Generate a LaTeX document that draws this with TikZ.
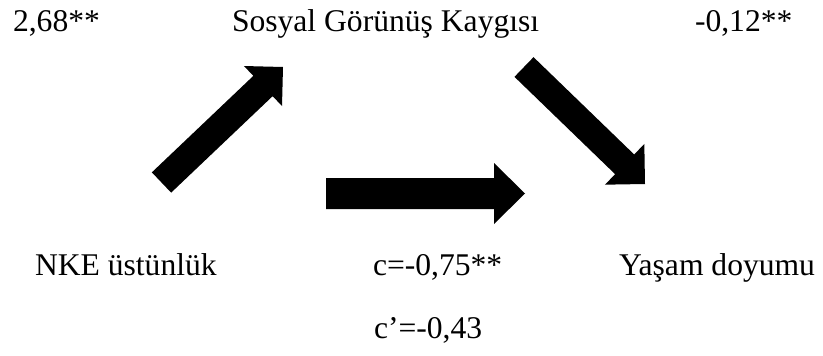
\documentclass[tikz,border=0pt]{standalone}
\usepackage{fontspec}
\setmainfont{Liberation Serif}
\usetikzlibrary{calc}
\newcommand\fatarrow[5]{%
  \coordinate (fa-h) at ($(#2)!#4!(#1)$);
  \fill[black] ($(#1)!#3!90:(#2)$) -- ($(fa-h)!#3!90:(#2)$) -- ($(fa-h)!#5!90:(#2)$)
    -- (#2) -- ($(fa-h)!#5!-90:(#2)$) -- ($(fa-h)!#3!-90:(#2)$) -- ($(#1)!#3!-90:(#2)$) -- cycle;
}
\begin{document}
\begin{tikzpicture}[x=1pt,y=-1pt,
  lbl/.style={anchor=base west,inner sep=0pt,outer sep=0pt,font=\fontsize{31.6}{38}\selectfont}]
\useasboundingbox (0,0) rectangle (823,356);
% labels
\node[lbl] (a1) at (13,31) {2,68**};
\node[lbl] (m) at (232,31) {Sosyal Görünüş Kaygısı};
\node[lbl] (b1) at (695,31) {-0,12**};
\node[lbl] (x) at (35,275) {NKE üstünlük};
\node[lbl] (c) at (373,275) {c=-0,75**};
\node[lbl] (y) at (619,275) {Yaşam doyumu};
\node[lbl] (cp) at (374,338) {c’=-0,43};
% arrows
\coordinate (t1) at (161.5,182.5); \coordinate (p1) at (283,67);
\coordinate (t2) at (524,67);     \coordinate (p2) at (645,184);
\coordinate (t3) at (326,193.5);  \coordinate (p3) at (525,193.5);
\fatarrow{t1}{p1}{14pt}{27.6pt}{27.6pt}
\fatarrow{t2}{p2}{13.7pt}{28.3pt}{28.3pt}
\fatarrow{t3}{p3}{15.5pt}{31pt}{30.5pt}
\end{tikzpicture}
\end{document}
